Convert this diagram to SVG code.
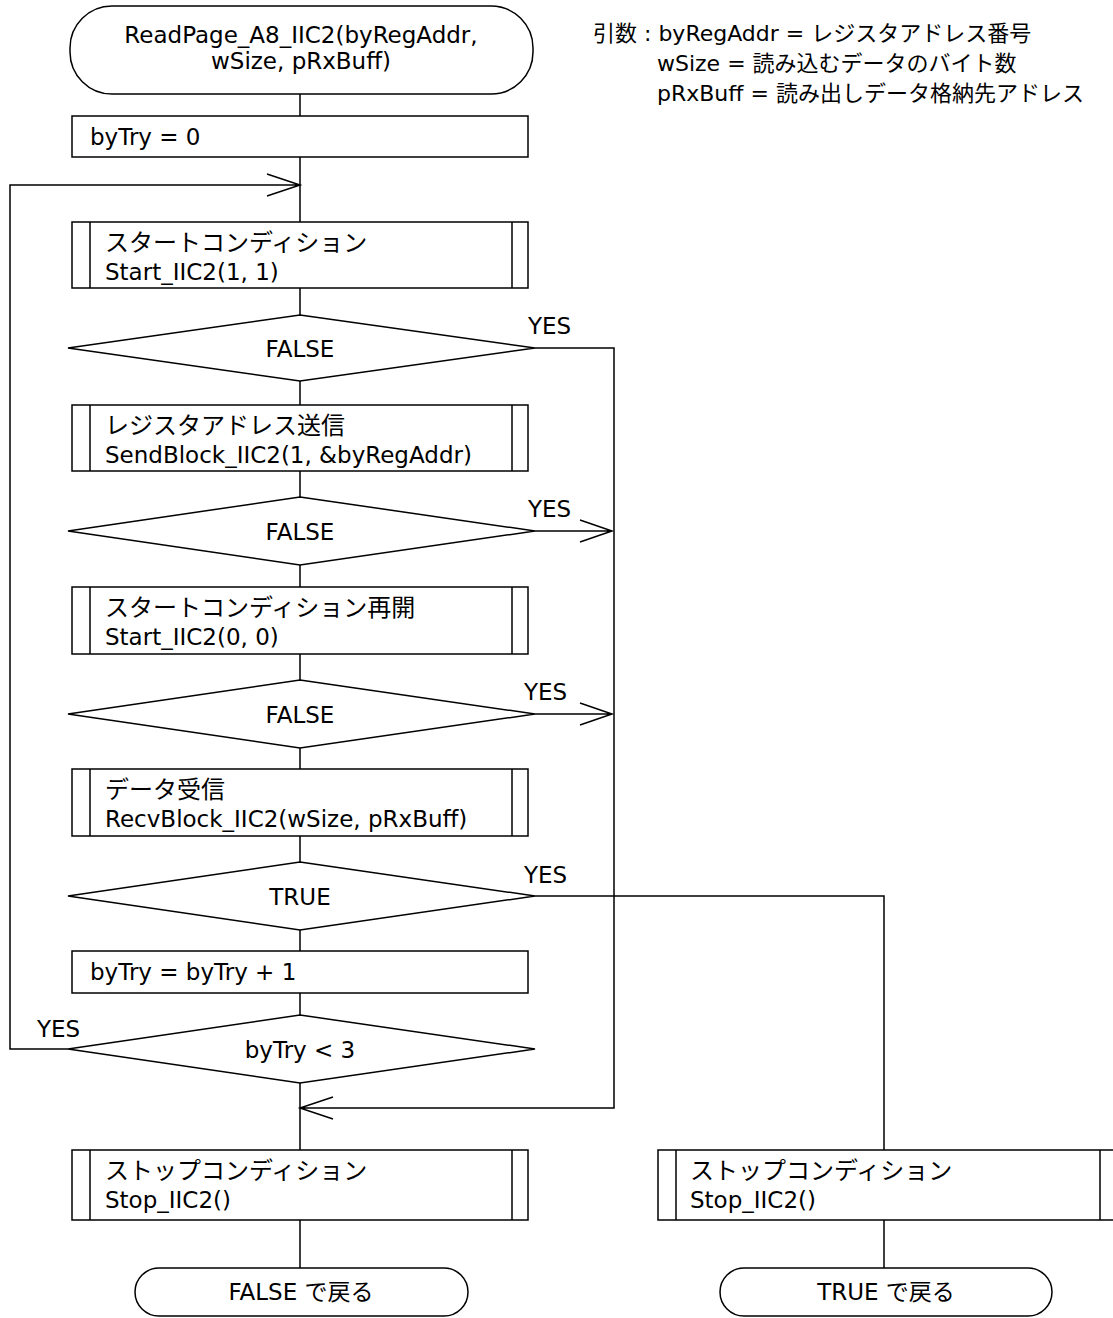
<svg xmlns="http://www.w3.org/2000/svg" width="1113" height="1318" viewBox="0 0 1113 1318">
<style>
.s{fill:#fff;stroke:#000;stroke-width:1.5}
.l{fill:none;stroke:#000;stroke-width:1.5}
text{font-family:"DejaVu Sans","Noto Sans CJK JP",sans-serif;font-size:23px;fill:#000}
.j{font-size:24px}
.a{font-size:22px}
.c{text-anchor:middle}
</style>
<rect width="1113" height="1318" fill="#fff"/>
<g id="connectors">
<path class="l" d="M300 94V116M300 157V222M300 288V315M300 381V405M300 471V497M300 565V587M300 654V680M300 748V769M300 836V862M300 930V951M300 993V1015M300 1083V1150M300 1220V1268"/>
<path class="l" d="M68 1049H10V185H300M267 174L300 185L267 196"/>
<path class="l" d="M535 348H614V1108H300M333 1097L300 1108L333 1119"/>
<path class="l" d="M535 531H612M580 520L612 531L580 542"/>
<path class="l" d="M535 714H612M580 703L612 714L580 725"/>
<path class="l" d="M535 896H884V1150M884 1220V1268"/>
<text x="528" y="334">YES</text>
<text x="528" y="517">YES</text>
<text x="524" y="700">YES</text>
<text x="524" y="883">YES</text>
<text x="37" y="1037">YES</text>
</g>
<g id="start"><rect class="s" x="70" y="6" width="463" height="88" rx="42"/><text class="c" x="301" y="43">ReadPage_A8_IIC2(byRegAddr,</text><text class="c" x="301" y="69">wSize, pRxBuff)</text></g>
<g id="init"><rect class="s" x="72" y="116" width="456" height="41"/><text x="90" y="145">byTry = 0</text></g>
<g id="sub1"><rect class="s" x="72" y="222" width="456" height="66"/><path class="l" d="M90 222V288M512 222V288"/><text class="j" x="105" y="251">スタートコンディション</text><text x="105" y="280">Start_IIC2(1, 1)</text></g>
<g id="dec1"><polygon class="s" points="300,315 535,348 300,381 68,348"/><text class="c" x="300" y="357">FALSE</text></g>
<g id="sub2"><rect class="s" x="72" y="405" width="456" height="66"/><path class="l" d="M90 405V471M512 405V471"/><text class="j" x="105" y="434">レジスタアドレス送信</text><text x="105" y="463">SendBlock_IIC2(1, &amp;byRegAddr)</text></g>
<g id="dec2"><polygon class="s" points="300,497 535,531 300,565 68,531"/><text class="c" x="300" y="540">FALSE</text></g>
<g id="sub3"><rect class="s" x="72" y="587" width="456" height="67"/><path class="l" d="M90 587V654M512 587V654"/><text class="j" x="105" y="616">スタートコンディション再開</text><text x="105" y="645">Start_IIC2(0, 0)</text></g>
<g id="dec3"><polygon class="s" points="300,680 535,714 300,748 68,714"/><text class="c" x="300" y="723">FALSE</text></g>
<g id="sub4"><rect class="s" x="72" y="769" width="456" height="67"/><path class="l" d="M90 769V836M512 769V836"/><text class="j" x="105" y="798">データ受信</text><text x="105" y="827">RecvBlock_IIC2(wSize, pRxBuff)</text></g>
<g id="dec4"><polygon class="s" points="300,862 535,896 300,930 68,896"/><text class="c" x="300" y="905">TRUE</text></g>
<g id="inc"><rect class="s" x="72" y="951" width="456" height="42"/><text x="90" y="980">byTry = byTry + 1</text></g>
<g id="dec5"><polygon class="s" points="300,1015 535,1049 300,1083 68,1049"/><text class="c" x="300" y="1058">byTry &lt; 3</text></g>
<g id="stop1"><rect class="s" x="72" y="1150" width="456" height="70"/><path class="l" d="M90 1150V1220M512 1150V1220"/><text class="j" x="105" y="1179">ストップコンディション</text><text x="105" y="1208">Stop_IIC2()</text></g>
<g id="endF"><rect class="s" x="135" y="1268" width="333" height="48" rx="24"/><text class="c" x="301" y="1300">FALSE で戻る</text></g>
<g id="stop2"><rect class="s" x="658" y="1150" width="460" height="70"/><path class="l" d="M676 1150V1220M1100 1150V1220"/><text class="j" x="690" y="1179">ストップコンディション</text><text x="690" y="1208">Stop_IIC2()</text></g>
<g id="endT"><rect class="s" x="720" y="1268" width="332" height="48" rx="24"/><text class="c" x="886" y="1300">TRUE で戻る</text></g>
<g id="args"><text class="a" x="593" y="41">引数 : byRegAddr = レジスタアドレス番号</text><text class="a" x="657" y="71">wSize = 読み込むデータのバイト数</text><text class="a" x="657" y="101">pRxBuff = 読み出しデータ格納先アドレス</text></g>
</svg>
